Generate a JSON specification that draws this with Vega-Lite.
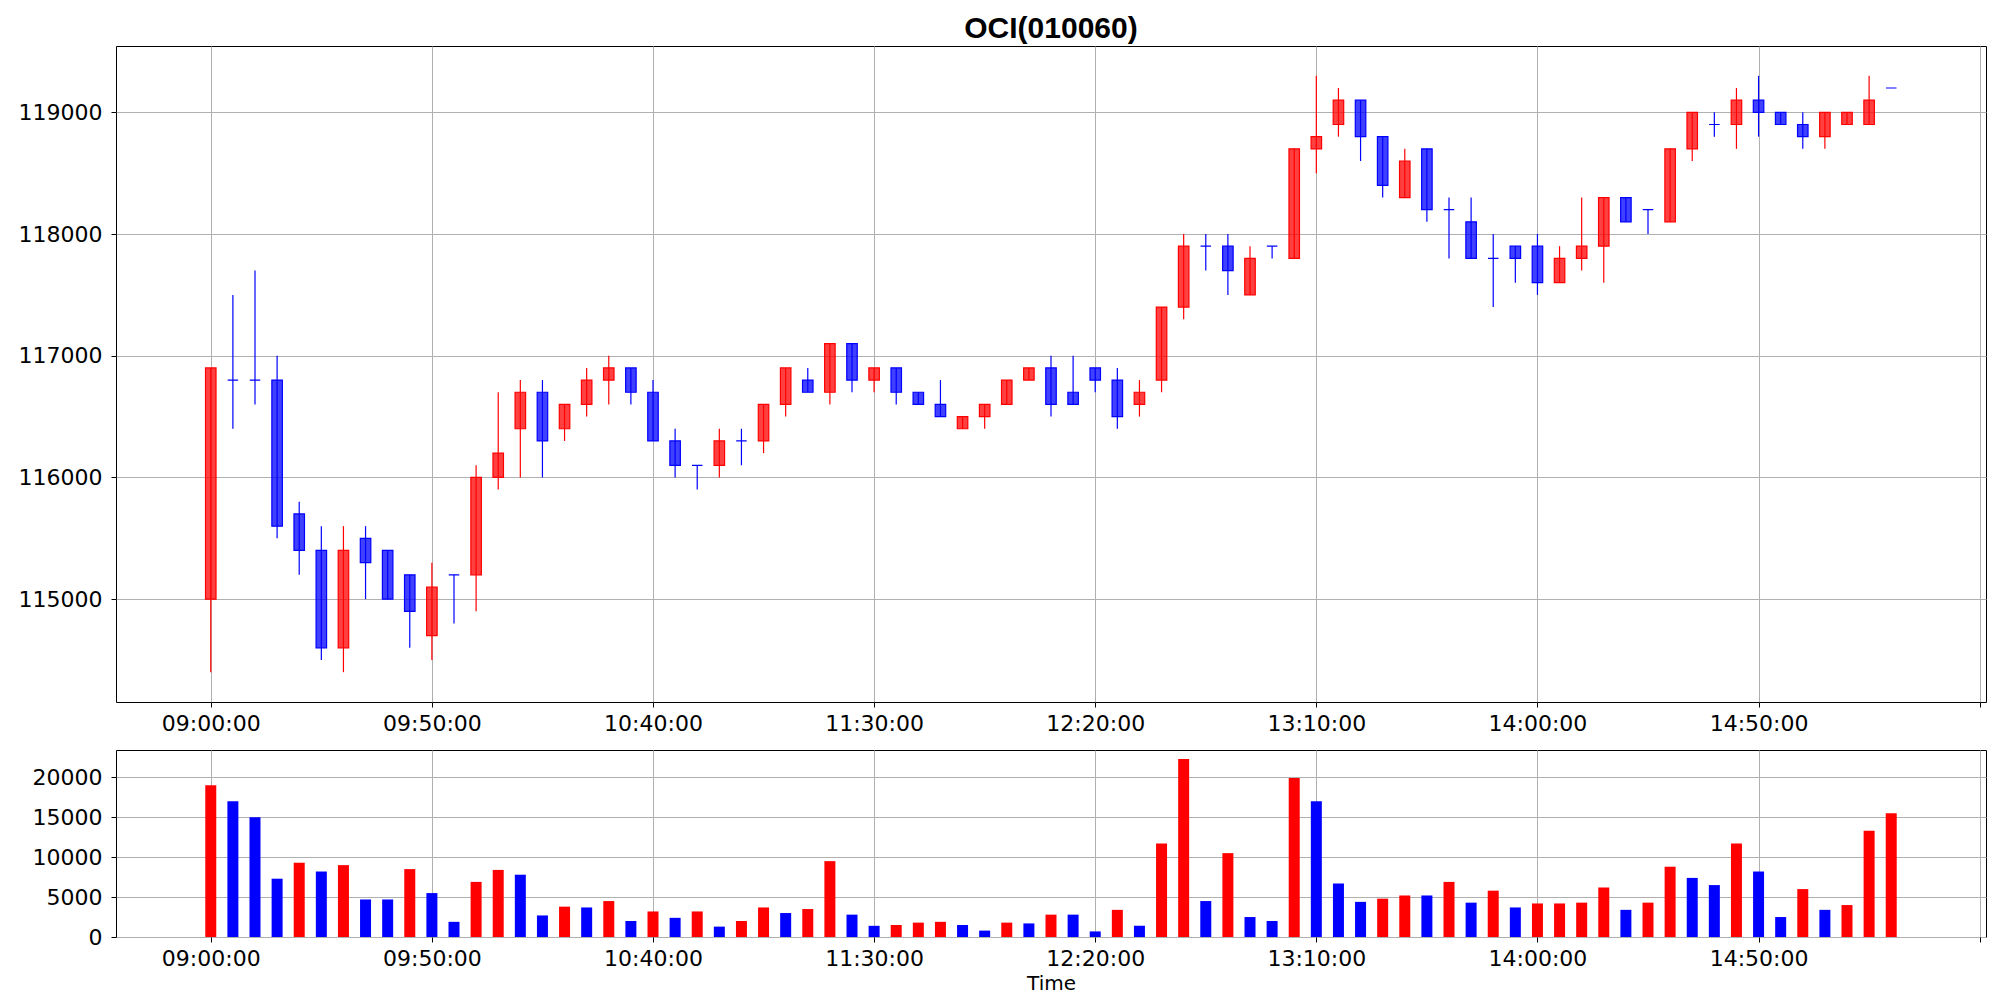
{
  "$schema": "https://vega.github.io/schema/vega-lite/v6.json",
  "background": "white",
  "padding": {"left": 17, "top": 13, "right": 15, "bottom": 4},
  "bounds": "flush",
  "spacing": 48,
  "config": {
    "font": "DejaVu Sans",
    "view": {"stroke": "black", "strokeWidth": 1},
    "axis": {
      "labelFont": "DejaVu Sans", "labelFontSize": 22, "labelColor": "black",
      "tickColor": "black", "tickSize": 5, "domain": false,
      "gridColor": "#b0b0b0", "gridWidth": 1,
      "titleFont": "DejaVu Sans", "titleFontSize": 20, "titleFontWeight": "normal", "titleColor": "black",
      "labelFlush": false, "labelBound": false, "labelOverlap": false
    },
    "axisX": {"labelPadding": 6, "titlePadding": 4},
    "axisY": {"labelPadding": 9}
  },
  "datasets": {
    "k": [
      {"t":"2024-01-02T09:00:00","o":115000,"h":116900,"l":114400,"c":116900,"v":19000,"cd":"up","vd":"up"},
      {"t":"2024-01-02T09:05:00","o":116800,"h":117500,"l":116400,"c":116800,"v":17000,"cd":"down","vd":"down"},
      {"t":"2024-01-02T09:10:00","o":116800,"h":117700,"l":116600,"c":116800,"v":15000,"cd":"down","vd":"down"},
      {"t":"2024-01-02T09:15:00","o":116800,"h":117000,"l":115500,"c":115600,"v":7300,"cd":"down","vd":"down"},
      {"t":"2024-01-02T09:20:00","o":115700,"h":115800,"l":115200,"c":115400,"v":9300,"cd":"down","vd":"up"},
      {"t":"2024-01-02T09:25:00","o":115400,"h":115600,"l":114500,"c":114600,"v":8200,"cd":"down","vd":"down"},
      {"t":"2024-01-02T09:30:00","o":114600,"h":115600,"l":114400,"c":115400,"v":9000,"cd":"up","vd":"up"},
      {"t":"2024-01-02T09:35:00","o":115500,"h":115600,"l":115000,"c":115300,"v":4700,"cd":"down","vd":"down"},
      {"t":"2024-01-02T09:40:00","o":115400,"h":115400,"l":115000,"c":115000,"v":4700,"cd":"down","vd":"down"},
      {"t":"2024-01-02T09:45:00","o":115200,"h":115200,"l":114600,"c":114900,"v":8500,"cd":"down","vd":"up"},
      {"t":"2024-01-02T09:50:00","o":114700,"h":115300,"l":114500,"c":115100,"v":5500,"cd":"up","vd":"down"},
      {"t":"2024-01-02T09:55:00","o":115200,"h":115200,"l":114800,"c":115200,"v":1900,"cd":"down","vd":"down"},
      {"t":"2024-01-02T10:00:00","o":115200,"h":116100,"l":114900,"c":116000,"v":6900,"cd":"up","vd":"up"},
      {"t":"2024-01-02T10:05:00","o":116000,"h":116700,"l":115900,"c":116200,"v":8400,"cd":"up","vd":"up"},
      {"t":"2024-01-02T10:10:00","o":116400,"h":116800,"l":116000,"c":116700,"v":7800,"cd":"up","vd":"down"},
      {"t":"2024-01-02T10:15:00","o":116700,"h":116800,"l":116000,"c":116300,"v":2700,"cd":"down","vd":"down"},
      {"t":"2024-01-02T10:20:00","o":116400,"h":116600,"l":116300,"c":116600,"v":3800,"cd":"up","vd":"up"},
      {"t":"2024-01-02T10:25:00","o":116600,"h":116900,"l":116500,"c":116800,"v":3700,"cd":"up","vd":"down"},
      {"t":"2024-01-02T10:30:00","o":116800,"h":117000,"l":116600,"c":116900,"v":4500,"cd":"up","vd":"up"},
      {"t":"2024-01-02T10:35:00","o":116900,"h":116900,"l":116600,"c":116700,"v":2000,"cd":"down","vd":"down"},
      {"t":"2024-01-02T10:40:00","o":116700,"h":116800,"l":116300,"c":116300,"v":3200,"cd":"down","vd":"up"},
      {"t":"2024-01-02T10:45:00","o":116300,"h":116400,"l":116000,"c":116100,"v":2400,"cd":"down","vd":"down"},
      {"t":"2024-01-02T10:50:00","o":116100,"h":116100,"l":115900,"c":116100,"v":3200,"cd":"down","vd":"up"},
      {"t":"2024-01-02T10:55:00","o":116100,"h":116400,"l":116000,"c":116300,"v":1300,"cd":"up","vd":"down"},
      {"t":"2024-01-02T11:00:00","o":116300,"h":116400,"l":116100,"c":116300,"v":2000,"cd":"down","vd":"up"},
      {"t":"2024-01-02T11:05:00","o":116300,"h":116600,"l":116200,"c":116600,"v":3700,"cd":"up","vd":"up"},
      {"t":"2024-01-02T11:10:00","o":116600,"h":116900,"l":116500,"c":116900,"v":3000,"cd":"up","vd":"down"},
      {"t":"2024-01-02T11:15:00","o":116800,"h":116900,"l":116700,"c":116700,"v":3500,"cd":"down","vd":"up"},
      {"t":"2024-01-02T11:20:00","o":116700,"h":117100,"l":116600,"c":117100,"v":9500,"cd":"up","vd":"up"},
      {"t":"2024-01-02T11:25:00","o":117100,"h":117100,"l":116700,"c":116800,"v":2800,"cd":"down","vd":"down"},
      {"t":"2024-01-02T11:30:00","o":116800,"h":116900,"l":116700,"c":116900,"v":1400,"cd":"up","vd":"down"},
      {"t":"2024-01-02T11:35:00","o":116900,"h":116900,"l":116600,"c":116700,"v":1500,"cd":"down","vd":"up"},
      {"t":"2024-01-02T11:40:00","o":116700,"h":116700,"l":116600,"c":116600,"v":1800,"cd":"down","vd":"up"},
      {"t":"2024-01-02T11:45:00","o":116600,"h":116800,"l":116500,"c":116500,"v":1900,"cd":"down","vd":"up"},
      {"t":"2024-01-02T11:50:00","o":116400,"h":116500,"l":116400,"c":116500,"v":1500,"cd":"up","vd":"down"},
      {"t":"2024-01-02T11:55:00","o":116500,"h":116600,"l":116400,"c":116600,"v":800,"cd":"up","vd":"down"},
      {"t":"2024-01-02T12:00:00","o":116600,"h":116800,"l":116600,"c":116800,"v":1800,"cd":"up","vd":"up"},
      {"t":"2024-01-02T12:05:00","o":116800,"h":116900,"l":116800,"c":116900,"v":1700,"cd":"up","vd":"down"},
      {"t":"2024-01-02T12:10:00","o":116900,"h":117000,"l":116500,"c":116600,"v":2800,"cd":"down","vd":"up"},
      {"t":"2024-01-02T12:15:00","o":116700,"h":117000,"l":116600,"c":116600,"v":2800,"cd":"down","vd":"down"},
      {"t":"2024-01-02T12:20:00","o":116900,"h":116900,"l":116700,"c":116800,"v":700,"cd":"down","vd":"down"},
      {"t":"2024-01-02T12:25:00","o":116800,"h":116900,"l":116400,"c":116500,"v":3400,"cd":"down","vd":"up"},
      {"t":"2024-01-02T12:30:00","o":116600,"h":116800,"l":116500,"c":116700,"v":1400,"cd":"up","vd":"down"},
      {"t":"2024-01-02T12:35:00","o":116800,"h":117400,"l":116700,"c":117400,"v":11700,"cd":"up","vd":"up"},
      {"t":"2024-01-02T12:40:00","o":117400,"h":118000,"l":117300,"c":117900,"v":22300,"cd":"up","vd":"up"},
      {"t":"2024-01-02T12:45:00","o":117900,"h":118000,"l":117700,"c":117900,"v":4500,"cd":"down","vd":"down"},
      {"t":"2024-01-02T12:50:00","o":117900,"h":118000,"l":117500,"c":117700,"v":10500,"cd":"down","vd":"up"},
      {"t":"2024-01-02T12:55:00","o":117500,"h":117900,"l":117500,"c":117800,"v":2500,"cd":"up","vd":"down"},
      {"t":"2024-01-02T13:00:00","o":117900,"h":117900,"l":117800,"c":117900,"v":2000,"cd":"down","vd":"down"},
      {"t":"2024-01-02T13:05:00","o":117800,"h":118700,"l":117800,"c":118700,"v":19900,"cd":"up","vd":"up"},
      {"t":"2024-01-02T13:10:00","o":118700,"h":119300,"l":118500,"c":118800,"v":17000,"cd":"up","vd":"down"},
      {"t":"2024-01-02T13:15:00","o":118900,"h":119200,"l":118800,"c":119100,"v":6700,"cd":"up","vd":"down"},
      {"t":"2024-01-02T13:20:00","o":119100,"h":119100,"l":118600,"c":118800,"v":4400,"cd":"down","vd":"down"},
      {"t":"2024-01-02T13:25:00","o":118800,"h":118800,"l":118300,"c":118400,"v":4800,"cd":"down","vd":"up"},
      {"t":"2024-01-02T13:30:00","o":118300,"h":118700,"l":118300,"c":118600,"v":5200,"cd":"up","vd":"up"},
      {"t":"2024-01-02T13:35:00","o":118700,"h":118700,"l":118100,"c":118200,"v":5200,"cd":"down","vd":"down"},
      {"t":"2024-01-02T13:40:00","o":118200,"h":118300,"l":117800,"c":118200,"v":6900,"cd":"down","vd":"up"},
      {"t":"2024-01-02T13:45:00","o":118100,"h":118300,"l":117800,"c":117800,"v":4300,"cd":"down","vd":"down"},
      {"t":"2024-01-02T13:50:00","o":117800,"h":118000,"l":117400,"c":117800,"v":5800,"cd":"down","vd":"up"},
      {"t":"2024-01-02T13:55:00","o":117900,"h":117900,"l":117600,"c":117800,"v":3700,"cd":"down","vd":"down"},
      {"t":"2024-01-02T14:00:00","o":117900,"h":118000,"l":117500,"c":117600,"v":4200,"cd":"down","vd":"up"},
      {"t":"2024-01-02T14:05:00","o":117600,"h":117900,"l":117600,"c":117800,"v":4200,"cd":"up","vd":"up"},
      {"t":"2024-01-02T14:10:00","o":117800,"h":118300,"l":117700,"c":117900,"v":4300,"cd":"up","vd":"up"},
      {"t":"2024-01-02T14:15:00","o":117900,"h":118300,"l":117600,"c":118300,"v":6200,"cd":"up","vd":"up"},
      {"t":"2024-01-02T14:20:00","o":118300,"h":118300,"l":118100,"c":118100,"v":3400,"cd":"down","vd":"down"},
      {"t":"2024-01-02T14:25:00","o":118200,"h":118200,"l":118000,"c":118200,"v":4300,"cd":"down","vd":"up"},
      {"t":"2024-01-02T14:30:00","o":118100,"h":118700,"l":118100,"c":118700,"v":8800,"cd":"up","vd":"up"},
      {"t":"2024-01-02T14:35:00","o":118700,"h":119000,"l":118600,"c":119000,"v":7400,"cd":"up","vd":"down"},
      {"t":"2024-01-02T14:40:00","o":118900,"h":119000,"l":118800,"c":118900,"v":6500,"cd":"down","vd":"down"},
      {"t":"2024-01-02T14:45:00","o":118900,"h":119200,"l":118700,"c":119100,"v":11700,"cd":"up","vd":"up"},
      {"t":"2024-01-02T14:50:00","o":119100,"h":119300,"l":118800,"c":119000,"v":8200,"cd":"down","vd":"down"},
      {"t":"2024-01-02T14:55:00","o":119000,"h":119000,"l":118900,"c":118900,"v":2500,"cd":"down","vd":"down"},
      {"t":"2024-01-02T15:00:00","o":118900,"h":119000,"l":118700,"c":118800,"v":6000,"cd":"down","vd":"up"},
      {"t":"2024-01-02T15:05:00","o":118800,"h":119000,"l":118700,"c":119000,"v":3400,"cd":"up","vd":"down"},
      {"t":"2024-01-02T15:10:00","o":118900,"h":119000,"l":118900,"c":119000,"v":4000,"cd":"up","vd":"up"},
      {"t":"2024-01-02T15:15:00","o":118900,"h":119300,"l":118900,"c":119100,"v":13300,"cd":"up","vd":"up"},
      {"t":"2024-01-02T15:20:00","o":119200,"h":119200,"l":119200,"c":119200,"v":15500,"cd":"down","vd":"up"}
    ]
  },
  "vconcat": [
    {
      "width": 1870,
      "height": 656,
      "title": {"text": "OCI(010060)", "font": "Liberation Sans", "fontSize": 30, "fontWeight": "bold", "color": "black", "anchor": "middle", "offset": 2},
      "data": {"name": "k"},
      "layer": [
        {
          "mark": {"type": "rule", "strokeWidth": 1.2},
          "encoding": {
            "x": {"field": "t", "type": "temporal",
              "scale": {"nice": false, "domain": [{"year": 2024, "month": 1, "date": 2, "hours": 8, "minutes": 39, "seconds": 42}, {"year": 2024, "month": 1, "date": 2, "hours": 15, "minutes": 40, "seconds": 18}]},
              "axis": {"title": null, "format": "%H:%M:%S", "grid": true,
                "values": [
                  {"year": 2024, "month": 1, "date": 2, "hours": 9, "minutes": 0},
                  {"year": 2024, "month": 1, "date": 2, "hours": 9, "minutes": 50},
                  {"year": 2024, "month": 1, "date": 2, "hours": 10, "minutes": 40},
                  {"year": 2024, "month": 1, "date": 2, "hours": 11, "minutes": 30},
                  {"year": 2024, "month": 1, "date": 2, "hours": 12, "minutes": 20},
                  {"year": 2024, "month": 1, "date": 2, "hours": 13, "minutes": 10},
                  {"year": 2024, "month": 1, "date": 2, "hours": 14, "minutes": 0},
                  {"year": 2024, "month": 1, "date": 2, "hours": 14, "minutes": 50},
                  {"year": 2024, "month": 1, "date": 2, "hours": 15, "minutes": 40}
                ],
                "labelExpr": "hours(datum.value) == 15 ? '' : datum.label"}},
            "y": {"field": "l", "type": "quantitative",
              "scale": {"domain": [114155, 119545], "zero": false, "nice": false},
              "axis": {"title": null, "format": "d", "values": [115000, 116000, 117000, 118000, 119000], "grid": true}},
            "y2": {"field": "h"},
            "color": {"field": "cd", "type": "nominal", "scale": {"domain": ["up", "down"], "range": ["#ff0000", "#0000ff"]}, "legend": null}
          }
        },
        {
          "mark": {"type": "bar", "size": 10.5, "fillOpacity": 0.75, "strokeWidth": 1.2},
          "encoding": {
            "x": {"field": "t", "type": "temporal"},
            "y": {"field": "o", "type": "quantitative"},
            "y2": {"field": "c"},
            "fill": {"field": "cd", "type": "nominal", "scale": {"domain": ["up", "down"], "range": ["#ff0000", "#0000ff"]}, "legend": null},
            "stroke": {"field": "cd", "type": "nominal", "scale": {"domain": ["up", "down"], "range": ["#ff0000", "#0000ff"]}, "legend": null}
          }
        }
      ]
    },
    {
      "width": 1870,
      "height": 187,
      "data": {"name": "k"},
      "mark": {"type": "bar", "size": 11},
      "encoding": {
        "x": {"field": "t", "type": "temporal",
          "scale": {"nice": false, "domain": [{"year": 2024, "month": 1, "date": 2, "hours": 8, "minutes": 39, "seconds": 42}, {"year": 2024, "month": 1, "date": 2, "hours": 15, "minutes": 40, "seconds": 18}]},
          "axis": {"title": "Time", "format": "%H:%M:%S", "grid": true,
            "values": [
              {"year": 2024, "month": 1, "date": 2, "hours": 9, "minutes": 0},
              {"year": 2024, "month": 1, "date": 2, "hours": 9, "minutes": 50},
              {"year": 2024, "month": 1, "date": 2, "hours": 10, "minutes": 40},
              {"year": 2024, "month": 1, "date": 2, "hours": 11, "minutes": 30},
              {"year": 2024, "month": 1, "date": 2, "hours": 12, "minutes": 20},
              {"year": 2024, "month": 1, "date": 2, "hours": 13, "minutes": 10},
              {"year": 2024, "month": 1, "date": 2, "hours": 14, "minutes": 0},
              {"year": 2024, "month": 1, "date": 2, "hours": 14, "minutes": 50},
              {"year": 2024, "month": 1, "date": 2, "hours": 15, "minutes": 40}
            ],
            "labelExpr": "hours(datum.value) == 15 ? '' : datum.label"}},
        "y": {"field": "v", "type": "quantitative",
          "scale": {"domain": [0, 23415], "nice": false},
          "axis": {"title": null, "format": "d", "values": [0, 5000, 10000, 15000, 20000], "grid": true}},
        "color": {"field": "vd", "type": "nominal", "scale": {"domain": ["up", "down"], "range": ["#ff0000", "#0000ff"]}, "legend": null}
      }
    }
  ]
}
